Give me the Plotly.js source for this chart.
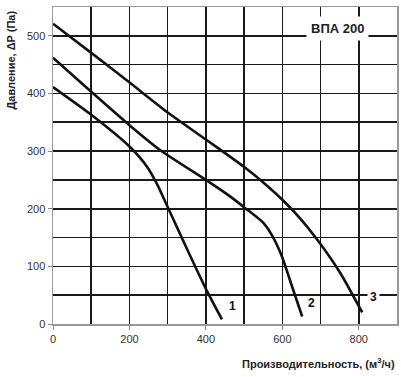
<!DOCTYPE html>
<html>
<head>
<meta charset="utf-8">
<script src="https://cdn.plot.ly/plotly-3.0.1.min.js"></script>
<style>html,body{margin:0;padding:0;background:#fff;}#chart{width:401px;height:377px;}</style>
</head>
<body>
<div id="chart"></div>
<script>
// Curve 1
const flow1 = [0, 100, 200, 246, 272, 300, 350, 400, 442];
const pres1 = [411, 363, 308, 273, 243, 203, 131, 61, 8];
// Curve 2
const flow2 = [0, 100, 200, 280, 400, 464, 503, 551, 577, 599, 625, 652];
const pres2 = [462, 403, 345, 302, 250, 221, 201, 175, 149, 117, 66, 13];
// Curve 3
const flow3 = [0, 101, 202, 302, 400, 464, 503, 551, 604, 647, 695, 752, 809];
const pres3 = [521, 470, 418, 366, 320, 290, 271, 245, 213, 183, 143, 88, 20];

const curveNames = ['1', '2', '3'];
const labelX = [469, 676, 839];
const labelY = [31, 36, 47];
const chartTitle = 'ВПА 200';
const xTitle = 'Производительность, (м<sup>3</sup>/ч)';
const yTitle = 'Давление, ΔP (Па)';

const font = 'Liberation Sans, Arial, sans-serif';
const lineStyle = {color: '#111', width: 2.6, shape: 'spline', smoothing: 0.6};

const traces = [
  {x: flow1, y: pres1, name: curveNames[0]},
  {x: flow2, y: pres2, name: curveNames[1]},
  {x: flow3, y: pres3, name: curveNames[2]}
].map(t => Object.assign(t, {type: 'scatter', mode: 'lines', line: lineStyle, hoverinfo: 'skip'}));

const annotations = curveNames.map((n, i) => ({
  x: labelX[i], y: labelY[i], xref: 'x', yref: 'y', text: '<b>' + n + '</b>', showarrow: false,
  font: {family: font, size: 12, color: '#111'},
  bgcolor: i === 2 ? '#fff' : 'rgba(0,0,0,0)', borderpad: 2
}));
annotations.push({
  x: 744, y: 512, xref: 'x', yref: 'y', text: '<b>' + chartTitle + '</b>', showarrow: false,
  font: {family: font, size: 13, color: '#222'}, bgcolor: '#fff', borderpad: 4
});
annotations.push({
  xref: 'paper', yref: 'paper', x: 1, y: 0, xanchor: 'right', yanchor: 'top', yshift: -30,
  text: '<b>' + xTitle + '</b>', showarrow: false, font: {family: font, size: 11, color: '#222'}
});
annotations.push({
  xref: 'paper', yref: 'paper', x: 0, y: 1, xanchor: 'center', yanchor: 'top', xshift: -43, yshift: -2,
  textangle: -90, text: '<b>' + yTitle + '</b>', showarrow: false, font: {family: font, size: 11, color: '#222'}
});

const layout = {
  width: 401, height: 377,
  margin: {l: 53, r: 4, t: 7, b: 53},
  paper_bgcolor: '#fff', plot_bgcolor: '#fff',
  showlegend: false,
  font: {family: font, size: 11, color: '#333'},
  xaxis: {
    range: [0, 900], dtick: 200, tick0: 0, showgrid: true, gridcolor: '#1a1a1a', gridwidth: 1.6,
    minor: {dtick: 100, showgrid: true, gridcolor: '#1a1a1a', gridwidth: 1.6},
    zeroline: false, showline: true, mirror: true, linecolor: '#999', linewidth: 1.5,
    ticks: 'outside', ticklen: 4, tickcolor: '#888', tickfont: {family: font, size: 11, color: '#333'},
    fixedrange: true
  },
  yaxis: {
    range: [0, 550], dtick: 100, tick0: 0, showgrid: true, gridcolor: '#1a1a1a', gridwidth: 1.6,
    minor: {dtick: 50, showgrid: true, gridcolor: '#1a1a1a', gridwidth: 1.6},
    zeroline: false, showline: true, mirror: true, linecolor: '#999', linewidth: 1.5,
    ticks: 'outside', ticklen: 4, tickcolor: '#888', tickfont: {family: font, size: 11, color: '#333'},
    fixedrange: true
  },
  annotations: annotations
};

Plotly.newPlot('chart', traces, layout, {staticPlot: true, displayModeBar: false});
</script>
</body>
</html>
